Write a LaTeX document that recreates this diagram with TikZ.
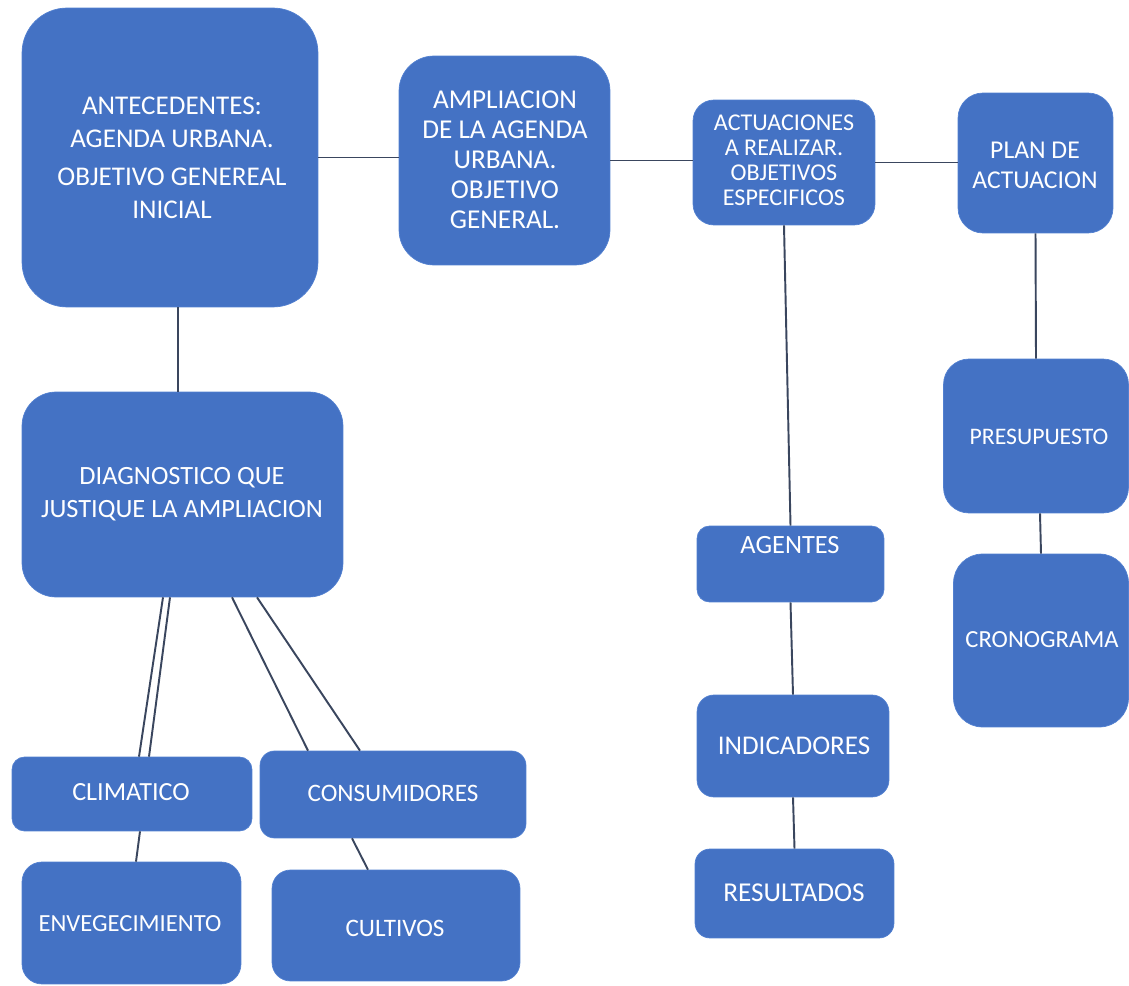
\documentclass[tikz,border=0pt]{standalone}
\usepackage{fontspec}
\setmainfont{Carlito}
\usepackage{tikz}
\usetikzlibrary{calc}
\definecolor{boxblue}{RGB}{68,114,196}
\definecolor{boxedge}{RGB}{82,128,208}
\definecolor{linkgray}{RGB}{58,70,94}

\begin{document}
\begin{tikzpicture}[x=0.02cm, y=-0.02cm,
  box/.style={draw=boxedge, fill=boxblue, rectangle, inner sep=0pt},
  lbl/.style={text=white, font=\fontsize{15}{18}\selectfont, align=center, inner sep=0pt},
  link/.style={draw=linkgray, line width=1.1pt}]
  \useasboundingbox[fill=white] (0,0) rectangle (1129,986);

  % Top row
  \node[box, minimum width=5.92cm, minimum height=5.98cm, rounded corners=0.9cm] (ant) at (170,157.5) {};
  \node[box, minimum width=4.22cm, minimum height=4.18cm, rounded corners=0.7cm] (amp) at (504.5,160.5) {};
  \node[box, minimum width=3.64cm, minimum height=2.5cm, rounded corners=0.42cm] (act) at (784,162.5) {};
  \node[box, minimum width=3.1cm, minimum height=2.8cm, rounded corners=0.5cm] (plan) at (1035.5,163) {};

  % Left branch
  \node[box, minimum width=6.42cm, minimum height=4.1cm, rounded corners=0.68cm] (diag) at (182.5,494.5) {};
  \node[box, minimum width=4.8cm, minimum height=1.48cm, rounded corners=0.25cm] (clim) at (132,794) {};
  \node[box, minimum width=5.32cm, minimum height=1.74cm, rounded corners=0.29cm] (cons) at (393,794.5) {};
  \node[box, minimum width=4.38cm, minimum height=2.44cm, rounded corners=0.4cm] (env) at (131.5,923) {};
  \node[box, minimum width=4.96cm, minimum height=2.22cm, rounded corners=0.37cm] (cult) at (396,925.5) {};

  % Middle branch
  \node[box, minimum width=3.74cm, minimum height=1.52cm, rounded corners=0.25cm] (agen) at (790.5,564) {};
  \node[box, minimum width=3.84cm, minimum height=2.04cm, rounded corners=0.34cm] (ind) at (793,746) {};
  \node[box, minimum width=3.98cm, minimum height=1.78cm, rounded corners=0.3cm] (res) at (794.5,893.5) {};

  % Right branch
  \node[box, minimum width=3.7cm, minimum height=3.08cm, rounded corners=0.51cm] (pres) at (1036,436) {};
  \node[box, minimum width=3.5cm, minimum height=3.46cm, rounded corners=0.58cm] (cron) at (1041,640.5) {};

  % Texts
  \node[lbl, font=\fontsize{15.4}{18.7}\selectfont] (ant-t) at (172,157.5) {ANTECEDENTES:\\ AGENDA URBANA.\\[3pt] OBJETIVO GENEREAL\\ INICIAL};
  \node[lbl, font=\fontsize{15.5}{17}\selectfont] (amp-t) at (505,160) {AMPLIACION\\ DE LA AGENDA\\ URBANA.\\ OBJETIVO\\ GENERAL.};
  \node[lbl, font=\fontsize{13.7}{14.2}\selectfont] (act-t) at (784,160.5) {ACTUACIONES\\ A REALIZAR.\\ OBJETIVOS\\ ESPECIFICOS};
  \node[lbl, font=\fontsize{14.6}{17}\selectfont] (plan-t) at (1035,165) {PLAN DE\\ ACTUACION};
  \node[lbl, font=\fontsize{15}{18.5}\selectfont] (diag-t) at (182,494) {DIAGNOSTICO QUE\\ JUSTIQUE LA AMPLIACION};
  \node[lbl, font=\fontsize{13.5}{16}\selectfont] (pres-t) at (1039,437) {PRESUPUESTO};
  \node[lbl, font=\fontsize{14}{16}\selectfont] (cron-t) at (1042,640) {CRONOGRAMA};
  \node[lbl] (agen-t) at (790,545) {AGENTES};
  \node[lbl, font=\fontsize{15.4}{18}\selectfont] (ind-t) at (794,746) {INDICADORES};
  \node[lbl, font=\fontsize{15.5}{18}\selectfont] (res-t) at (794,893) {RESULTADOS};
  \node[lbl, font=\fontsize{14.9}{18}\selectfont] (clim-t) at (131,792) {CLIMATICO};
  \node[lbl, font=\fontsize{14.3}{18}\selectfont] (cons-t) at (393,793) {CONSUMIDORES};
  \node[lbl, font=\fontsize{14}{18}\selectfont] (env-t) at (130,924) {ENVEGECIMIENTO};
  \node[lbl, font=\fontsize{14.3}{18}\selectfont] (cult-t) at (395,928) {CULTIVOS};

  % Connectors
  \draw[link] (ant.east) -- (ant.east -| amp.west);
  \draw[link] (amp.east) -- (amp.east -| act.west);
  \draw[link] (act.east) -- (act.east -| plan.west);
  \draw[link] ($(ant.south)+(8,0)$) -- ($(diag.north)+(-4.5,0)$);
  \draw[link] (act.south) -- (agen.north);
  \draw[link] (agen.south) -- (ind.north);
  \draw[link] (ind.south) -- (res.north);
  \draw[link] (plan.south) -- (pres.north);
  \draw[link] ($(pres.south)+(4,0)$) -- (cron.north);
  \draw[link] ($(diag.south)+(-19.5,0)$) -- ($(clim.north)+(7,0)$);
  \draw[link] ($(diag.south)+(-12.5,0)$) -- ($(clim.north)+(17,0)$);
  \draw[link] ($(diag.south)+(49.5,0)$) -- ($(cons.north)+(-85,0)$);
  \draw[link] ($(diag.south)+(74.5,0)$) -- ($(cons.north)+(-33,0)$);
  \draw[link] ($(clim.south)+(8,0)$) -- ($(env.north)+(4.5,0)$);
  \draw[link] ($(cons.south)+(-41,0)$) -- ($(cult.north)+(-28,0)$);
\end{tikzpicture}
\end{document}
